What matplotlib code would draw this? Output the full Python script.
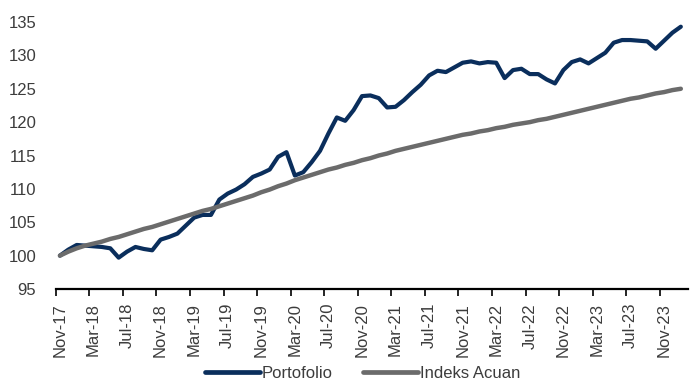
import matplotlib
matplotlib.use("Agg")
import matplotlib.pyplot as plt
import pandas as pd

# Monthly index values, Nov-17 = 100
months = pd.date_range("2017-11-01", periods=75, freq="MS").strftime("%b-%y").tolist()

portofolio = [
    100.0, 100.9, 101.6, 101.5, 101.4, 101.3, 101.1, 99.7, 100.6, 101.3,
    101.0, 100.8, 102.4, 102.8, 103.3, 104.5, 105.7, 106.1, 106.1, 108.4,
    109.3, 109.9, 110.7, 111.8, 112.3, 112.9, 114.8, 115.5, 112.0, 112.5,
    114.0, 115.7, 118.3, 120.7, 120.2, 121.8, 123.9, 124.0, 123.6, 122.2,
    122.3, 123.3, 124.5, 125.6, 127.0, 127.7, 127.5, 128.2, 128.9, 129.1,
    128.8, 129.0, 128.9, 126.6, 127.8, 128.0, 127.2, 127.2, 126.4, 125.8,
    127.8, 129.0, 129.4, 128.8, 129.6, 130.4, 131.9, 132.3, 132.3, 132.2,
    132.1, 131.0, 132.2, 133.4, 134.3,
]

indeks_acuan = [
    100.0, 100.6, 101.1, 101.5, 101.8, 102.1, 102.5, 102.8, 103.2, 103.6,
    104.0, 104.3, 104.7, 105.1, 105.5, 105.9, 106.3, 106.7, 107.0, 107.4,
    107.8, 108.2, 108.6, 109.0, 109.5, 109.9, 110.4, 110.8, 111.3, 111.7,
    112.1, 112.5, 112.9, 113.2, 113.6, 113.9, 114.3, 114.6, 115.0, 115.3,
    115.7, 116.0, 116.3, 116.6, 116.9, 117.2, 117.5, 117.8, 118.1, 118.3,
    118.6, 118.8, 119.1, 119.3, 119.6, 119.8, 120.0, 120.3, 120.5, 120.8,
    121.1, 121.4, 121.7, 122.0, 122.3, 122.6, 122.9, 123.2, 123.5, 123.7,
    124.0, 124.3, 124.5, 124.8, 125.0,
]

y_ticks = [95, 100, 105, 110, 115, 120, 125, 130, 135]

NAVY = "#0a2e5c"
GREY = "#6b6b6b"
TEXT = "#3c3c3c"
FONT = ["Liberation Sans", "DejaVu Sans"]

fig = plt.figure(figsize=(6.94, 3.83), dpi=100)
ax = fig.add_axes([0.0803, 0.2454, 0.9110, 0.6971])

x = list(range(len(months)))
ax.plot(x, portofolio, color=NAVY, lw=3.0, solid_capstyle="round",
        solid_joinstyle="round", label="Portofolio", zorder=3)
ax.plot(x, indeks_acuan, color=GREY, lw=3.2, solid_capstyle="round",
        solid_joinstyle="round", label="Indeks Acuan", zorder=4)

ax.set_xlim(-0.5, len(months) - 0.15)
ax.set_ylim(95, 135)

# tick marks sit between categories, labels centred on the category
label_pos = x[::4]
ax.set_xticks([p - 0.5 for p in label_pos])
ax.set_xticklabels([])
ax.tick_params(axis="x", which="major", length=5, width=1.2, color="black",
               direction="out")
ax.set_xticks(label_pos, minor=True)
ax.set_xticklabels([months[p] for p in label_pos], minor=True, rotation=90,
                   fontsize=12, color=TEXT, family=FONT)
ax.tick_params(axis="x", which="minor", length=0, pad=10)

ax.set_yticks(y_ticks)
ax.set_yticklabels([str(v) for v in y_ticks], fontsize=12, color=TEXT,
                   family=FONT)
ax.tick_params(axis="y", length=0, pad=14)

for side in ["top", "right", "left"]:
    ax.spines[side].set_visible(False)
ax.spines["bottom"].set_linewidth(1.6)
ax.spines["bottom"].set_color("black")

leg = fig.legend(loc="center", bbox_to_anchor=(0.522, 0.026), ncol=2,
                 frameon=False, handlelength=3.3, handletextpad=0.12,
                 columnspacing=1.8, borderpad=0, prop={"family": FONT, "size": 12})
for t in leg.get_texts():
    t.set_color(TEXT)
for h in leg.legend_handles:
    h.set_linewidth(3.4)

fig.savefig("out.png", dpi=100)
